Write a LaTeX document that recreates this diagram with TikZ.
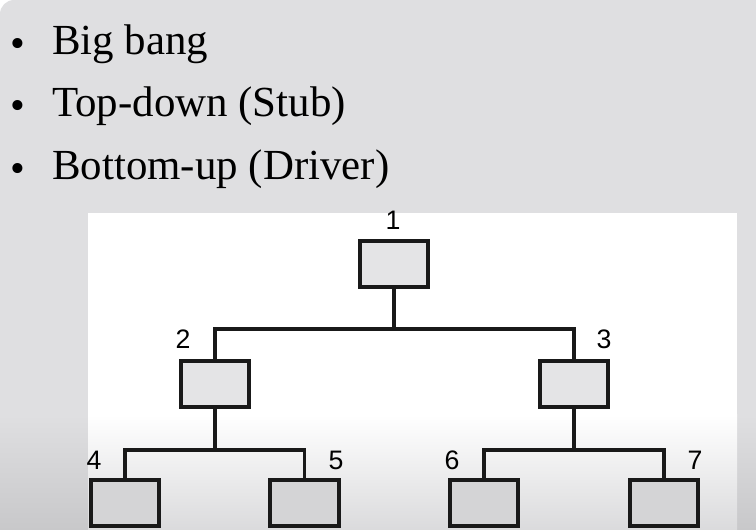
\documentclass[tikz,border=0pt]{standalone}
\usepackage{fontspec}
\setmainfont{Liberation Serif}
\setsansfont{Liberation Sans}
\usepackage{xcolor}
\usepackage{tikz}
\usetikzlibrary{positioning,calc,backgrounds}
\definecolor{slidebg}{HTML}{DFDFE1}
\definecolor{slidelow}{HTML}{C8C8CA}
\definecolor{boxtop}{HTML}{E4E4E6}
\definecolor{boxlow}{HTML}{D4D4D6}
\tikzset{
  mod/.style    = {rectangle, draw=black!90, line width=2.8pt, fill=boxtop,
                   minimum width=1.72cm, minimum height=1.15cm, inner sep=0pt},
  modlow/.style = {mod, fill=boxlow},
  wire/.style   = {line width=2.8pt, black!90, line join=miter},
  num/.style    = {font=\sffamily\fontsize{19}{21}\selectfont, anchor=base, inner sep=0pt},
  item/.style   = {font=\fontsize{30.5}{36}\selectfont, anchor=base west, inner sep=0pt},
  dot/.style    = {font=\fontsize{30}{34}\selectfont, anchor=base, inner sep=0pt},
}
\begin{document}
\begin{tikzpicture}[x=0.025cm, y=-0.025cm]
  \useasboundingbox (0,0) rectangle (756,530);
  % slide and picture panel
  \fill[white] (0,0) rectangle (756,530);
  \fill[slidebg, rounded corners=10pt] (0,0) rectangle (780,560);
  \shade[top color=slidebg, bottom color=slidelow] (0,415) rectangle (756,530);
  \fill[white] (88,213) rectangle (737,416);
  \shade[top color=white, bottom color=boxlow!85] (88,415) rectangle (737,530);

  % bullet list
  \node[dot]  (d1) at (18,58)  {\textbullet};
  \node[item] (t1) at (52,55)  {Big bang};
  \node[dot]  (d2) at (18,120) {\textbullet};
  \node[item] (t2) at (52,117) {Top-down (Stub)};
  \node[dot]  (d3) at (18,183) {\textbullet};
  \node[item] (t3) at (52,180) {Bottom-up (Driver)};

  % module tree
  \node[mod]    (m1) at (394,264)   {};
  \node[mod]    (m2) at (215,384)   {};
  \node[mod]    (m3) at (574,384)   {};
  \node[modlow] (m4) at (125,503)   {};
  \node[modlow] (m5) at (304.5,503) {};
  \node[modlow] (m6) at (484,503)   {};
  \node[modlow] (m7) at (664,503)   {};

  \node[num] (n1) at (393,230) {1};
  \node[num] (n2) at (183,349) {2};
  \node[num] (n3) at (604,349) {3};
  \node[num] (n4) at (94,469)  {4};
  \node[num] (n5) at (336,469) {5};
  \node[num] (n6) at (452,469) {6};
  \node[num] (n7) at (695,469) {7};

  \draw[wire] (m1.south) -- ++(0,40) -| (m2.north);
  \draw[wire] (m1.south) -- ++(0,40) -| (m3.north);
  \draw[wire] (m2.south) -- ++(0,41) -| (m4.north);
  \draw[wire] (m2.south) -- ++(0,41) -| (m5.north);
  \draw[wire] (m3.south) -- ++(0,41) -| (m6.north);
  \draw[wire] (m3.south) -- ++(0,41) -| (m7.north);
\end{tikzpicture}
\end{document}
